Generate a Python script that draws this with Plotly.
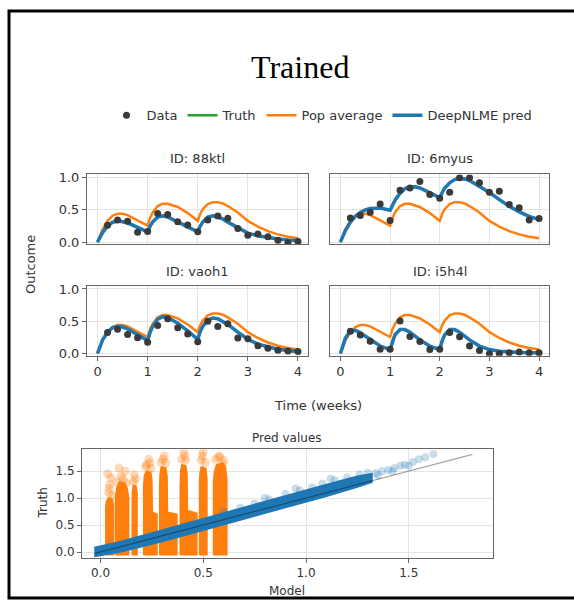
import plotly.graph_objects as go

W, H = 574, 608

# ---------------- data ----------------
IDS = ["88ktl", "6myus", "vaoh1", "i5h4l"]

T_CURVE = [0, 0.1, 0.2, 0.3, 0.4, 0.5, 0.6, 0.8, 1.0, 1.05, 1.1, 1.2, 1.3, 1.4, 1.5, 1.6, 1.8,
           2.0, 2.05, 2.1, 2.2, 2.3, 2.4, 2.5, 2.6, 2.8, 3.0, 3.2, 3.4, 3.6, 3.8, 4.0]

POP_AVG = [0, 0.20, 0.33, 0.41, 0.44, 0.44, 0.42, 0.34, 0.255, 0.38, 0.46, 0.56, 0.595, 0.595, 0.575, 0.545, 0.45,
           0.33, 0.44, 0.51, 0.59, 0.62, 0.62, 0.60, 0.56, 0.46, 0.33, 0.24, 0.17, 0.12, 0.085, 0.06]

PRED_88ktl = [0, 0.15, 0.255, 0.31, 0.33, 0.32, 0.30, 0.23, 0.16, 0.25, 0.31, 0.39, 0.41, 0.39, 0.35, 0.32, 0.23,
              0.16, 0.25, 0.31, 0.39, 0.41, 0.39, 0.36, 0.31, 0.22, 0.14, 0.10, 0.07, 0.05, 0.035, 0.025]
PRED_6myus = [0, 0.18, 0.31, 0.40, 0.46, 0.50, 0.52, 0.53, 0.495, 0.58, 0.65, 0.76, 0.83, 0.855, 0.86, 0.84, 0.77,
              0.69, 0.77, 0.84, 0.92, 0.97, 0.985, 0.98, 0.955, 0.87, 0.77, 0.66, 0.555, 0.47, 0.40, 0.35]
PRED_vaoh1 = [0, 0.21, 0.33, 0.40, 0.42, 0.41, 0.38, 0.29, 0.20, 0.33, 0.42, 0.53, 0.57, 0.56, 0.52, 0.47, 0.35,
              0.22, 0.34, 0.42, 0.52, 0.55, 0.54, 0.50, 0.45, 0.33, 0.22, 0.145, 0.10, 0.065, 0.045, 0.03]
PRED_i5h4l = [0, 0.24, 0.35, 0.36, 0.32, 0.27, 0.21, 0.115, 0.06, 0.20, 0.29, 0.37, 0.37, 0.33, 0.27, 0.21, 0.115,
              0.06, 0.20, 0.29, 0.37, 0.37, 0.33, 0.27, 0.21, 0.115, 0.06, 0.035, 0.022, 0.016, 0.012, 0.01]

TRUTH_88ktl = [0, 0.14, 0.24, 0.30, 0.32, 0.315, 0.295, 0.23, 0.16, 0.25, 0.31, 0.385, 0.405, 0.385, 0.35, 0.315, 0.23,
               0.16, 0.25, 0.31, 0.385, 0.405, 0.385, 0.355, 0.31, 0.22, 0.14, 0.10, 0.07, 0.05, 0.035, 0.025]
TRUTH_6myus = PRED_6myus
TRUTH_vaoh1 = PRED_vaoh1
TRUTH_i5h4l = PRED_i5h4l

T_DATA = [0.2, 0.4, 0.6, 0.8, 1.0, 1.2, 1.4, 1.6, 1.8, 2.0, 2.2, 2.4, 2.6, 2.8, 3.0, 3.2, 3.4, 3.6, 3.8, 4.0]
DATA_88ktl = [0.26, 0.345, 0.325, 0.155, 0.165, 0.445, 0.43, 0.315, 0.265, 0.16,
              0.345, 0.405, 0.37, 0.21, 0.105, 0.125, 0.085, 0.03, -0.01, 0.01]
DATA_6myus = [0.375, 0.415, 0.465, 0.59, 0.335, 0.805, 0.84, 0.94, 0.74, 0.68,
              0.775, 1.0, 1.0, 0.92, 0.775, 0.79, 0.585, 0.535, 0.345, 0.365]
DATA_vaoh1 = [0.325, 0.375, 0.295, 0.245, 0.175, 0.435, 0.54, 0.40, 0.30, 0.18,
              0.50, 0.42, 0.46, 0.24, 0.23, 0.12, 0.08, 0.05, 0.04, 0.03]
DATA_i5h4l = [0.345, 0.285, 0.19, 0.065, 0.065, 0.505, 0.265, 0.185, 0.06, 0.065,
              0.325, 0.26, 0.117, 0.045, -0.005, -0.005, 0.01, 0.023, 0.01, 0.01]

PRED = [PRED_88ktl, PRED_6myus, PRED_vaoh1, PRED_i5h4l]
TRUTH = [TRUTH_88ktl, TRUTH_6myus, TRUTH_vaoh1, TRUTH_i5h4l]
DATA = [DATA_88ktl, DATA_6myus, DATA_vaoh1, DATA_i5h4l]

# prediction-vs-truth scatter: outlines of the dense point clouds, plus sparse outer points
ORANGE_CLOUD_X = [
    [0.026, 0.063, 0.063, 0.058, 0.050, 0.038, 0.030, 0.026],
    [0.073, 0.137, 0.137, 0.130, 0.118, 0.092, 0.080, 0.073],
    [0.154, 0.178, 0.178, 0.173, 0.160, 0.155],
    [0.210, 0.275, 0.275, 0.252, 0.250, 0.244, 0.222, 0.213, 0.210],
    [0.288, 0.372, 0.372, 0.326, 0.324, 0.318, 0.296, 0.290, 0.288],
    [0.388, 0.469, 0.469, 0.423, 0.421, 0.415, 0.396, 0.390, 0.388],
    [0.482, 0.518, 0.518, 0.513, 0.490, 0.484, 0.482],
    [0.550, 0.615, 0.615, 0.608, 0.595, 0.565, 0.555, 0.550],
]
ORANGE_CLOUD_Y = [
    [-0.05, -0.05, 0.85, 0.97, 1.00, 1.00, 0.95, 0.85],
    [-0.05, -0.05, 1.00, 1.18, 1.28, 1.30, 1.20, 1.00],
    [-0.05, -0.05, 1.10, 1.22, 1.24, 1.12],
    [-0.05, -0.05, 0.70, 0.74, 1.35, 1.48, 1.50, 1.40, 1.20],
    [-0.05, -0.05, 0.70, 0.74, 1.40, 1.56, 1.58, 1.45, 1.20],
    [-0.05, -0.05, 0.72, 0.77, 1.45, 1.60, 1.62, 1.50, 1.20],
    [-0.05, -0.05, 1.35, 1.55, 1.58, 1.45, 1.30],
    [-0.05, -0.05, 1.35, 1.58, 1.65, 1.62, 1.50, 1.30],
]
ORANGE_FADED_X = [0.040, 0.045, 0.050, 0.035, 0.055, 0.042, 0.080, 0.100, 0.120, 0.090, 0.110, 0.125, 0.160,
                  0.170, 0.165, 0.220, 0.240, 0.235, 0.225, 0.245, 0.295, 0.305, 0.310, 0.318, 0.395, 0.410,
                  0.405, 0.415, 0.490, 0.500, 0.495, 0.510, 0.560, 0.580, 0.600, 0.575, 0.595]
ORANGE_FADED_Y = [1.10, 1.25, 1.38, 1.45, 1.05, 1.18, 1.30, 1.40, 1.50, 1.56, 1.35, 1.28, 1.30, 1.35,
                  1.43, 1.58, 1.65, 1.72, 1.62, 1.55, 1.66, 1.72, 1.78, 1.65, 1.72, 1.78, 1.85, 1.70,
                  1.70, 1.85, 1.78, 1.66, 1.72, 1.78, 1.70, 1.76, 1.64]

BAND_X = [-0.03, 0.1, 0.3, 0.5, 0.7, 0.9, 1.1, 1.25, 1.32]
BAND_LO = [-0.08, 0.01, 0.20, 0.41, 0.61, 0.83, 1.04, 1.21, 1.30]
BAND_HI = [0.08, 0.19, 0.40, 0.62, 0.82, 1.04, 1.25, 1.40, 1.45]
BLUE_FADED_X = [0.60, 0.68, 0.75, 0.80, 0.82, 0.90, 0.95, 0.97, 1.03, 1.08, 1.12, 1.14, 1.20, 1.26, 1.30,
                1.34, 1.35, 1.37, 1.40, 1.42, 1.43, 1.46, 1.48, 1.50, 1.52, 1.55, 1.58, 1.62]
BLUE_FADED_Y = [0.75, 0.82, 0.90, 1.00, 0.98, 1.08, 1.18, 1.14, 1.20, 1.27, 1.36, 1.33, 1.38, 1.44, 1.47,
                1.46, 1.42, 1.50, 1.52, 1.50, 1.56, 1.60, 1.62, 1.60, 1.67, 1.72, 1.76, 1.82]
IDENTITY = [-0.03, 1.81]

# ---------------- styling ----------------
C_BLUE, C_ORANGE, C_GREEN, C_DATA = "#1f77b4", "#ff7f0e", "#2ca02c", "#3a3a3a"
FONT = "DejaVu Sans"


def xdom(a, b):
    return [a / W, b / W]


def ydom(top, bot):
    return [1 - bot / H, 1 - top / H]


PANEL_BOX = [(87, 308, 173, 244), (330, 549, 173, 244), (87, 308, 286, 357), (330, 549, 286, 357)]

fig = go.Figure()

for i in range(4):
    ax = "" if i == 0 else str(i + 1)
    xa, ya = "x" + ax, "y" + ax
    first = i == 0
    fig.add_trace(go.Scatter(x=T_CURVE, y=POP_AVG, mode="lines", line=dict(color=C_ORANGE, width=2.5),
                             name="Pop average", legendgroup="pop", showlegend=first, legendrank=3,
                             xaxis=xa, yaxis=ya))
    fig.add_trace(go.Scatter(x=T_CURVE, y=TRUTH[i], mode="lines", line=dict(color=C_GREEN, width=2.5),
                             name="Truth", legendgroup="truth", showlegend=first, legendrank=2,
                             xaxis=xa, yaxis=ya))
    fig.add_trace(go.Scatter(x=T_CURVE, y=PRED[i], mode="lines", line=dict(color=C_BLUE, width=3.5),
                             name="DeepNLME pred", legendgroup="pred", showlegend=first, legendrank=4,
                             xaxis=xa, yaxis=ya))
    fig.add_trace(go.Scatter(x=T_DATA, y=DATA[i], mode="markers", marker=dict(color=C_DATA, size=7),
                             name="Data", legendgroup="data", showlegend=first, legendrank=1,
                             xaxis=xa, yaxis=ya))

# scatter panel: orange clouds
for cx, cy in zip(ORANGE_CLOUD_X, ORANGE_CLOUD_Y):
    fig.add_trace(go.Scatter(x=cx + cx[:1], y=cy + cy[:1], mode="lines", fill="toself",
                             fillcolor=C_ORANGE, line=dict(color=C_ORANGE, width=1.5),
                             showlegend=False, hoverinfo="skip", xaxis="x5", yaxis="y5"))
fig.add_trace(go.Scatter(x=ORANGE_FADED_X, y=ORANGE_FADED_Y, mode="markers",
                         marker=dict(color=C_ORANGE, size=9, opacity=0.3), showlegend=False,
                         xaxis="x5", yaxis="y5"))
# blue cloud
fig.add_trace(go.Scatter(x=BAND_X + BAND_X[::-1], y=BAND_LO + BAND_HI[::-1], mode="lines", fill="toself",
                         fillcolor=C_BLUE, line=dict(color=C_BLUE, width=2), showlegend=False,
                         hoverinfo="skip", xaxis="x5", yaxis="y5"))
fig.add_trace(go.Scatter(x=BLUE_FADED_X, y=BLUE_FADED_Y, mode="markers",
                         marker=dict(color=C_BLUE, size=8, opacity=0.25), showlegend=False,
                         xaxis="x5", yaxis="y5"))
fig.add_trace(go.Scatter(x=IDENTITY, y=IDENTITY, mode="lines", line=dict(color="rgba(0,0,0,0.35)", width=1.2),
                         showlegend=False, xaxis="x5", yaxis="y5"))

axis_common = dict(showline=True, mirror=True, linecolor="#666", linewidth=1, gridcolor="#e4e4e4",
                   zeroline=False, ticks="outside", ticklen=4, tickcolor="#666",
                   tickfont=dict(family=FONT, size=13, color="#333"))

layout = dict(width=W, height=H, margin=dict(l=0, r=0, t=0, b=0), paper_bgcolor="white",
              plot_bgcolor="white", font=dict(family=FONT, color="#333"))

for i, (a, b, top, bot) in enumerate(PANEL_BOX):
    ax = "" if i == 0 else str(i + 1)
    xk, yk = "xaxis" + ax, "yaxis" + ax
    xa = dict(axis_common, domain=xdom(a, b), range=[-0.21, 4.2], tickvals=[0, 1, 2, 3, 4],
              anchor="y" + ax)
    ya = dict(axis_common, domain=ydom(top, bot), range=[-0.035, 1.05], tickvals=[0, 0.5, 1.0],
              tickformat=".1f", anchor="x" + ax)
    if i < 2:
        xa.update(showticklabels=False, ticks="")
    if i % 2 == 1:
        ya.update(showticklabels=False, ticks="")
    layout[xk] = xa
    layout[yk] = ya

layout["xaxis5"] = dict(axis_common, domain=xdom(82, 493), range=[-0.09, 1.91], tickvals=[0, 0.5, 1.0, 1.5],
                        tickformat=".1f", anchor="y5", tickfont=dict(family=FONT, size=12, color="#333"))
layout["yaxis5"] = dict(axis_common, domain=ydom(452, 562), range=[-0.105, 1.905], tickvals=[0, 0.5, 1.0, 1.5],
                        tickformat=".1f", anchor="x5", tickfont=dict(family=FONT, size=12, color="#333"))

fig.update_layout(**layout)

fig.update_layout(
    legend=dict(orientation="h", x=322 / W, y=1 - 113 / H, xanchor="center", yanchor="middle",
                font=dict(family=FONT, size=13, color="#333"), bgcolor="rgba(0,0,0,0)",
                itemwidth=30, traceorder="normal"),
)

ann = [
    dict(text="Trained", x=300 / W, y=1 - 64 / H, font=dict(family="Liberation Serif", size=32, color="black")),
    dict(text="ID: 88ktl", x=197 / W, y=1 - 157 / H, font=dict(size=13)),
    dict(text="ID: 6myus", x=440 / W, y=1 - 157 / H, font=dict(size=13)),
    dict(text="ID: vaoh1", x=197 / W, y=1 - 272 / H, font=dict(size=13)),
    dict(text="ID: i5h4l", x=440 / W, y=1 - 272 / H, font=dict(size=13)),
    dict(text="Outcome", x=30 / W, y=1 - 265 / H, textangle=-90, font=dict(size=13)),
    dict(text="Time (weeks)", x=318 / W, y=1 - 408 / H, font=dict(size=13)),
    dict(text="Pred values", x=287 / W, y=1 - 441 / H, font=dict(size=12)),
    dict(text="Model", x=287 / W, y=1 - 596 / H, font=dict(size=12)),
    dict(text="Truth", x=43 / W, y=1 - 507 / H, textangle=-90, font=dict(size=12)),
]
for a in ann:
    a.update(xref="paper", yref="paper", showarrow=False, xanchor="center", yanchor="middle")
    a["font"].setdefault("family", FONT)
    a["font"].setdefault("color", "#333")
fig.update_layout(annotations=ann)

fig.update_layout(shapes=[dict(type="rect", xref="paper", yref="paper", x0=9 / W, x1=1.05,
                               y0=1 - 603 / H, y1=1 - 7 / H, line=dict(color="black", width=3))])

fig.write_html("out.html")
